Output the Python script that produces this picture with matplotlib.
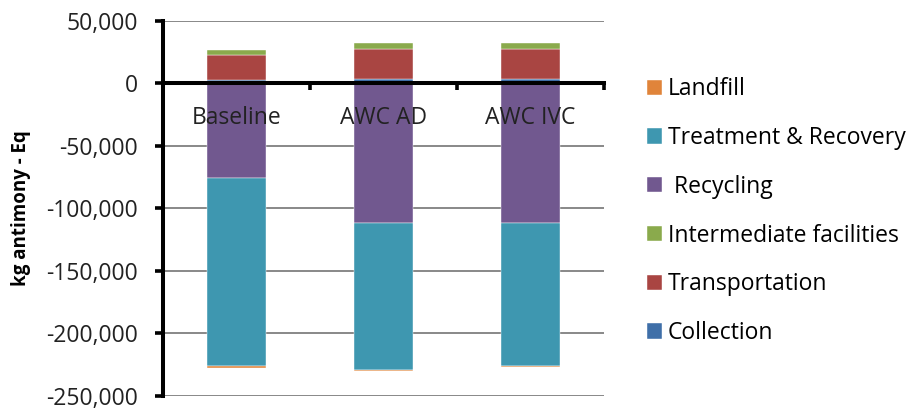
import numpy as np
import matplotlib
matplotlib.use("Agg")
import matplotlib.pyplot as plt
from matplotlib.ticker import FuncFormatter, FixedLocator

plt.rcParams["font.family"] = ["Open Sans", "DejaVu Sans"]

scenarios = ["Baseline", "AWC AD", "AWC IVC"]
series = ["Collection", "Transportation", "Intermediate facilities",
          " Recycling", "Treatment & Recovery", "Landfill"]
collection = [2500, 3500, 3500]
transportation = [20200, 24300, 24300]
intermediate = [3700, 4200, 4200]
recycling = [-75500, -111400, -111400]
treatment = [-150500, -117800, -114300]
landfill = [-1500, -1000, -1200]
colors = ["#3F6FA8", "#A94542", "#8AAA4C", "#71588F", "#3E97B0", "#E0843A"]

values = [collection, transportation, intermediate, recycling, treatment, landfill]

fig = plt.figure(figsize=(9.16, 4.09), dpi=100)
ax = fig.add_axes([0.178, 0.032, 0.481, 0.917])

x = np.arange(len(scenarios))
pos_bottom = np.zeros(len(x))
neg_bottom = np.zeros(len(x))
handles = []
for name, vals, c in zip(series, values, colors):
    vals = np.array(vals, dtype=float)
    bottom = np.where(vals >= 0, pos_bottom, neg_bottom)
    h = ax.bar(x, vals, 0.4, bottom=bottom, color=c, label=name, zorder=3,
               edgecolor="white", linewidth=0.3)
    handles.append(h)
    pos_bottom += np.where(vals >= 0, vals, 0)
    neg_bottom += np.where(vals < 0, vals, 0)

ax.set_xlim(-0.5, 2.5)
ax.set_ylim(-250000, 50000)
ax.set_yticks(np.arange(-250000, 50001, 50000))
ax.yaxis.set_major_formatter(FuncFormatter(lambda v, p: f"{int(v):,}"))
ax.yaxis.grid(True, color="#888888", linewidth=1.4, zorder=0)
ax.tick_params(axis="y", labelsize=16.5, labelcolor="#222222", length=6,
               width=2.6, direction="out", pad=12)

ax.set_xticks([])
ax.xaxis.set_minor_locator(FixedLocator([0.5, 1.5, 2.5]))
ax.tick_params(axis="x", which="minor", length=5, width=2.6, direction="out")
ax.spines["bottom"].set_position(("data", 0))
ax.spines["bottom"].set_linewidth(2.9)
ax.spines["bottom"].set_zorder(4)
ax.spines["left"].set_linewidth(2.9)
ax.spines["top"].set_visible(False)
ax.spines["right"].set_visible(False)

for xi, s in zip(x, scenarios):
    ax.text(xi, -28000, s, ha="center", va="center", fontsize=16.5,
            color="#222222", zorder=5)

ax.set_ylabel("kg antimony - Eq", fontsize=13.5, fontweight="bold")
ax.yaxis.set_label_coords(-0.30, 0.5)

fig.legend(handles[::-1], [h.get_label() for h in handles[::-1]],
           loc="upper left", bbox_to_anchor=(0.706, 0.811), frameon=False,
           fontsize=16.5, handlelength=0.65, handleheight=0.65,
           handletextpad=0.26, labelspacing=1.08, borderaxespad=0,
           borderpad=0)

fig.savefig("out.png", dpi=100)
